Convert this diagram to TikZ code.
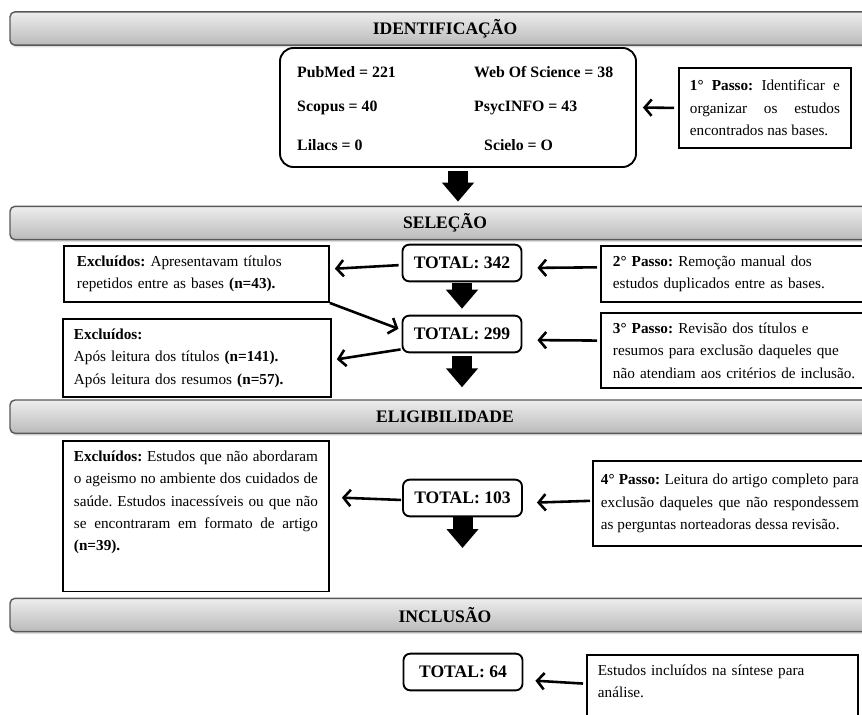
\documentclass[tikz,border=0pt]{standalone}
\usepackage{fontspec}
\setmainfont{Liberation Serif}
\usetikzlibrary{positioning, arrows.meta, shadows}
\frenchspacing
\tikzset{fase/.style={draw=black!65, line width=1.2pt, rounded corners=0.15cm, top color=black!7, bottom color=black!27,
                      minimum width=26.1cm, minimum height=1cm, font=\fontsize{15}{18}\selectfont\bfseries,
                      drop shadow={opacity=0.25, shadow xshift=0.04cm, shadow yshift=-0.07cm}},
         total/.style={draw, line width=1.6pt, rounded corners=0.2cm, fill=white, minimum width=3.57cm, minimum height=1.1cm,
                       font=\fontsize{15}{17}\selectfont\bfseries},
         caixa/.style={draw, line width=1.6pt, fill=white, anchor=north west, inner xsep=0.33cm, inner ysep=0.3cm,
                       font=\fontsize{13}{19}\selectfont},
         fonte/.style={anchor=west, inner sep=0pt, font=\fontsize{13.5}{15}\selectfont\bfseries},
         seta/.style={line width=2.2pt, -{Straight Barb[length=6pt,width=14pt]}},
         desce/.style={line width=0.6cm, -{Triangle[width=0.93cm,length=0.57cm]}},
        }

\begin{document}
\begin{tikzpicture}
        \useasboundingbox (0,0) rectangle (25.86,-21.45);
        \clip (0,0) rectangle (25.86,-21.45);

        % fases
        \node[fase](ident)at(13.35,-0.855){IDENTIFICAÇÃO};
        \node[fase](sel)at(13.35,-6.69){SELEÇÃO};
        \node[fase](eleg)at(13.35,-12.5){ELIGIBILIDADE};
        \node[fase](incl)at(13.35,-18.45){INCLUSÃO};

        % identificacao
        \node[draw, line width=1.6pt, rounded corners=0.4cm, minimum width=10.68cm, minimum height=3.57cm](bases)at(13.74,-3.225){};
        \node[fonte](pubmed)at(8.91,-2.16){PubMed = 221};
        \node[fonte](wos)at(14.22,-2.16){Web Of Science = 38};
        \node[fonte](scopus)at(8.91,-3.24){Scopus = 40};
        \node[fonte](psyc)at(14.22,-3.24){PsycINFO = 43};
        \node[fonte](lilacs)at(8.91,-4.35){Lilacs = 0};
        \node[fonte](scielo)at(14.52,-4.35){Scielo = O};
        \node[caixa, text width=4.5cm, minimum height=2.4cm, align=justify](passo1)at(20.34,-2.01)
            {\textbf{1° Passo:} Identificar e\linebreak organizar os estudos\linebreak encontrados nas bases.};
        \draw[seta, shorten <=0.12cm, shorten >=0.18cm](passo1.west)--(bases.east);
        \draw[desce, shorten <=0.09cm, shorten >=0.12cm](bases.south)--(bases.south |- sel.north);

        % selecao
        \node[total](t342)at(13.86,-7.89){TOTAL: 342};
        \node[total](t299)at(13.86,-10.02){TOTAL: 299};
        \node[caixa, text width=7.17cm, inner xsep=0.39cm, minimum height=1.68cm, align=left](excl1)at(1.89,-7.35)
            {\textbf{Excluídos:} Apresentavam títulos\\repetidos entre as bases \textbf{(n=43).}};
        \node[caixa, text width=7.38cm, minimum height=2.16cm, align=left](excl2)at(1.86,-9.54)
            {\textbf{Excluídos:}\\Após leitura dos títulos \textbf{(n=141).}\\Após leitura dos resumos \textbf{(n=57).}};
        \node[caixa, text width=7.8cm, inner xsep=0.36cm, minimum height=1.65cm, align=left](passo2)at(18.0,-7.35)
            {\textbf{2° Passo:} Remoção manual dos\\estudos duplicados entre as bases.};
        \node[caixa, text width=7.8cm, inner xsep=0.36cm, minimum height=2.13cm, align=left](passo3)at(18.0,-9.36)
            {\textbf{3° Passo:} Revisão dos títulos e\\resumos para exclusão daqueles que\\não atendiam aos critérios de inclusão.};

        \draw[seta, shorten <=0.09cm, shorten >=0.45cm]([yshift=0.2cm]passo2.west)--([yshift=-0.15cm]t342.east);
        \draw[seta, shorten <=0.09cm, shorten >=0.15cm]([yshift=-0.06cm]t342.west)--([yshift=0.15cm]excl1.east);
        \draw[seta, shorten >=0.1cm](excl1.south east)--([yshift=0.12cm]t299.west);
        \draw[seta, shorten <=0.09cm, shorten >=0.45cm]([yshift=0.3cm]passo3.west)--([yshift=-0.18cm]t299.east);
        \draw[seta, shorten <=0.03cm, shorten >=0.15cm]([yshift=0.12cm]t299.south west)--([yshift=-0.06cm]excl2.east);
        \draw[desce, shorten <=0.03cm, shorten >=0.18cm](t342.south)--(t299.north);
        \draw[desce, shorten <=0.09cm, shorten >=0.36cm](t299.south)--(t299.south |- eleg.north);

        % eligibilidade
        \node[total](t103)at(13.875,-14.94){TOTAL: 103};
        \node[caixa, text width=7.32cm, text depth=3.6cm, align=justify](excl3)at(1.86,-13.2)
            {\textbf{Excluídos:} Estudos que não abordaram\linebreak o ageismo no ambiente dos cuidados de\linebreak
             saúde. Estudos inacessíveis ou que não\linebreak se encontraram em formato de artigo\linebreak \textbf{(n=39).}};
        \node[caixa, text width=7.74cm, inner xsep=0.24cm, minimum height=2.55cm, align=justify](passo4)at(17.76,-13.8)
            {\textbf{4° Passo:} Leitura do artigo completo para\linebreak exclusão daqueles que não respondessem\linebreak
             as perguntas norteadoras dessa revisão.};
        \coordinate(fim)at(13.875,-16.44);

        \draw[seta, shorten <=0.06cm, shorten >=0.42cm]([yshift=0.08cm]passo4.west)--([yshift=-0.15cm]t103.east);
        \draw[seta, shorten <=0.03cm, shorten >=0.36cm]([yshift=-0.06cm]t103.west)--([yshift=0.57cm]excl3.east);
        \draw[desce](t103.south)--(fim);

        % inclusao
        \node[total](t64)at(13.89,-20.16){TOTAL: 64};
        \node[caixa, text width=7.47cm, text depth=1.35cm, align=left](estudos)at(17.58,-19.62)
            {Estudos incluídos na síntese para\\análise.};
        \draw[seta, shorten <=0.09cm, shorten >=0.36cm]([yshift=0.27cm]estudos.west)--([yshift=-0.24cm]t64.east);
\end{tikzpicture}
\end{document}
